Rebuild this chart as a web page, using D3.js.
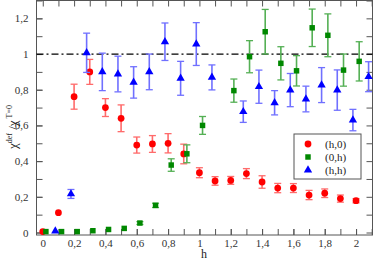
<!DOCTYPE html>
<html>
<head>
<meta charset="utf-8">
<script src="https://cdn.jsdelivr.net/npm/d3@7"></script>
<style>
body { margin: 0; background: #fff; }
svg text { font-family: "Liberation Serif", "DejaVu Serif", serif; }
</style>
</head>
<body>
<div id="chart"></div>
<script>
// (h,0) series
var hRed = [0, 0.1, 0.2, 0.3, 0.4, 0.5, 0.6, 0.7, 0.8, 0.9, 1.0, 1.1, 1.2, 1.3, 1.4, 1.5, 1.6, 1.7, 1.8, 1.9, 2.0];
var valRed = [0.005, 0.111, 0.761, 0.90, 0.70, 0.64, 0.49, 0.496, 0.50, 0.44, 0.335, 0.289, 0.292, 0.33, 0.283, 0.249, 0.249, 0.21, 0.22, 0.19, 0.178];
var errRed = [0, 0, 0.07, 0.07, 0.05, 0.075, 0.045, 0.047, 0.054, 0.055, 0.028, 0.024, 0.022, 0.028, 0.035, 0.026, 0.025, 0.026, 0.024, 0.02, 0.012];

// (0,h) series
var hGreen = [0.02, 0.12, 0.22, 0.32, 0.42, 0.52, 0.62, 0.72, 0.82, 0.92, 1.02, 1.22, 1.32, 1.42, 1.52, 1.62, 1.72, 1.82, 1.92, 2.02];
var valGreen = [0.005, 0.005, 0.005, 0.01, 0.017, 0.023, 0.053, 0.152, 0.378, 0.441, 0.600, 0.795, 0.985, 1.125, 0.948, 0.906, 1.147, 1.105, 0.91, 0.959];
var errGreen = [0, 0, 0, 0, 0, 0, 0.008, 0.012, 0.035, 0.05, 0.05, 0.065, 0.09, 0.125, 0.093, 0.085, 0.105, 0.12, 0.09, 0.11];

// (h,h) series
var hBlue = [0.08, 0.18, 0.28, 0.38, 0.48, 0.58, 0.68, 0.78, 0.88, 0.98, 1.08, 1.28, 1.38, 1.48, 1.58, 1.68, 1.78, 1.88, 1.98, 2.08];
var valBlue = [0.008, 0.216, 1.007, 0.90, 0.888, 0.841, 0.90, 1.069, 0.864, 1.056, 0.869, 0.677, 0.817, 0.727, 0.798, 0.748, 0.826, 0.798, 0.63, 0.873];
var errBlue = [0, 0.025, 0.11, 0.105, 0.1, 0.088, 0.1, 0.105, 0.095, 0.12, 0.07, 0.06, 0.093, 0.068, 0.093, 0.072, 0.098, 0.113, 0.06, 0.084];

var xTicks = [0, 0.2, 0.4, 0.6, 0.8, 1, 1.2, 1.4, 1.6, 1.8, 2];
var yTicks = [0, 0.2, 0.4, 0.6, 0.8, 1, 1.2];
var legendNames = ["(h,0)", "(0,h)", "(h,h)"];

var w = 374, h = 261;
var pLeft = 36.5, pRight = 372.5, pTop = 0.5, pBottom = 235;

var svg = d3.select("#chart").append("svg")
    .attr("width", w)
    .attr("height", h);

var x = d3.scaleLinear().domain([-0.04, 2.105]).range([pLeft, pRight]);
var y = d3.scaleLinear().domain([-0.014, 1.3]).range([pBottom, pTop]);

var fmt = function(d) { return String(d).replace(".", ","); };
var minorX = d3.range(0, 2.11, 0.1);
var minorY = d3.range(0, 1.31, 0.1);

// ticks pointing inward on all four sides
var axB = d3.axisBottom(x).tickValues(xTicks).tickFormat(fmt).tickSizeInner(-6).tickSizeOuter(0).tickPadding(4);
var axL = d3.axisLeft(y).tickValues(yTicks).tickFormat(fmt).tickSizeInner(-6).tickSizeOuter(0).tickPadding(8);

function styleAxis(g) {
    g.select(".domain").remove();
    g.selectAll("line").attr("stroke", "#555");
    g.selectAll("text").attr("fill", "#333").style("font-size", "11px");
}

svg.append("g").attr("transform", "translate(0," + pBottom + ")")
    .call(d3.axisBottom(x).tickValues(minorX).tickFormat("").tickSizeInner(-6).tickSizeOuter(0)).call(styleAxis);
svg.append("g").attr("transform", "translate(0," + pBottom + ")").call(axB).call(styleAxis);
svg.append("g").attr("transform", "translate(0," + pTop + ")")
    .call(d3.axisTop(x).tickValues(minorX).tickFormat("").tickSizeInner(-6).tickSizeOuter(0)).call(styleAxis);
svg.append("g").attr("transform", "translate(" + pLeft + ",0)")
    .call(d3.axisLeft(y).tickValues(minorY).tickFormat("").tickSizeInner(-6).tickSizeOuter(0)).call(styleAxis);
svg.append("g").attr("transform", "translate(" + pLeft + ",0)").call(axL).call(styleAxis);
svg.append("g").attr("transform", "translate(" + pRight + ",0)")
    .call(d3.axisRight(y).tickValues(minorY).tickFormat("").tickSizeInner(-6).tickSizeOuter(0)).call(styleAxis);

// frame
svg.append("rect")
    .attr("x", pLeft).attr("y", pTop)
    .attr("width", pRight - pLeft).attr("height", pBottom - pTop)
    .attr("fill", "none").attr("stroke", "#555").attr("stroke-width", 1);

// reference line at 1
svg.append("line")
    .attr("x1", pLeft).attr("x2", pRight)
    .attr("y1", y(1)).attr("y2", y(1))
    .attr("stroke", "#000").attr("stroke-width", 1.3)
    .attr("stroke-dasharray", "7,3,2,3");

var series = [
    {hs: hRed, vs: valRed, es: errRed, color: "#ff0000", bar: "#ff6b6b", shape: d3.symbolCircle, size: 36},
    {hs: hGreen, vs: valGreen, es: errGreen, color: "#008800", bar: "#55b055", shape: d3.symbolSquare, size: 30},
    {hs: hBlue, vs: valBlue, es: errBlue, color: "#0000ff", bar: "#7070ff", shape: d3.symbolTriangle, size: 30}
];

series.forEach(function(s) {
    var pts = s.hs.map(function(hv, i) { return {h: hv, v: s.vs[i], e: s.es[i]}; });
    var eb = svg.append("g");
    var withErr = pts.filter(function(d) { return d.e > 0; });
    eb.selectAll("line.v").data(withErr).enter().append("line")
        .attr("x1", function(d) { return x(d.h); })
        .attr("x2", function(d) { return x(d.h); })
        .attr("y1", function(d) { return y(d.v - d.e); })
        .attr("y2", function(d) { return y(d.v + d.e); })
        .attr("stroke", s.bar).attr("stroke-width", 1.6);
    [-1, 1].forEach(function(sg) {
        eb.selectAll("line.c" + sg).data(withErr).enter().append("line")
            .attr("x1", function(d) { return x(d.h) - 3.5; })
            .attr("x2", function(d) { return x(d.h) + 3.5; })
            .attr("y1", function(d) { return y(d.v + sg * d.e); })
            .attr("y2", function(d) { return y(d.v + sg * d.e); })
            .attr("stroke", s.bar).attr("stroke-width", 1.3);
    });
    svg.append("g").selectAll("path").data(pts).enter().append("path")
        .attr("d", d3.symbol().type(s.shape).size(s.size))
        .attr("transform", function(d) { return "translate(" + x(d.h) + "," + y(d.v) + ")"; })
        .attr("fill", s.color);
});

// legend
var lg = svg.append("g");
lg.append("rect")
    .attr("x", 294).attr("y", 134)
    .attr("width", 67).attr("height", 45)
    .attr("fill", "#fff").attr("stroke", "#555").attr("stroke-width", 1);
legendNames.forEach(function(name, i) {
    var ly = 144 + i * 13;
    lg.append("path")
        .attr("d", d3.symbol().type(series[i].shape).size(series[i].size))
        .attr("transform", "translate(308," + ly + ")")
        .attr("fill", series[i].color);
    lg.append("text")
        .attr("x", 325).attr("y", ly + 4)
        .style("font-size", "11px").attr("fill", "#222")
        .text(name);
});

// axis labels
svg.append("text")
    .attr("x", x(1.03)).attr("y", 258)
    .attr("text-anchor", "middle")
    .style("font-size", "12px").attr("fill", "#222")
    .text("h");

var yl = svg.append("text")
    .attr("transform", "translate(17,127) rotate(-90)")
    .attr("text-anchor", "middle")
    .style("font-size", "13px").attr("fill", "#222");
yl.append("tspan").text("χ");
yl.append("tspan").attr("dy", -5).style("font-size", "8px").text("def");
yl.append("tspan").attr("dy", 5).text(" /χ");
yl.append("tspan").attr("dy", -5).style("font-size", "8px").text(" T=0");
</script>
</body>
</html>
